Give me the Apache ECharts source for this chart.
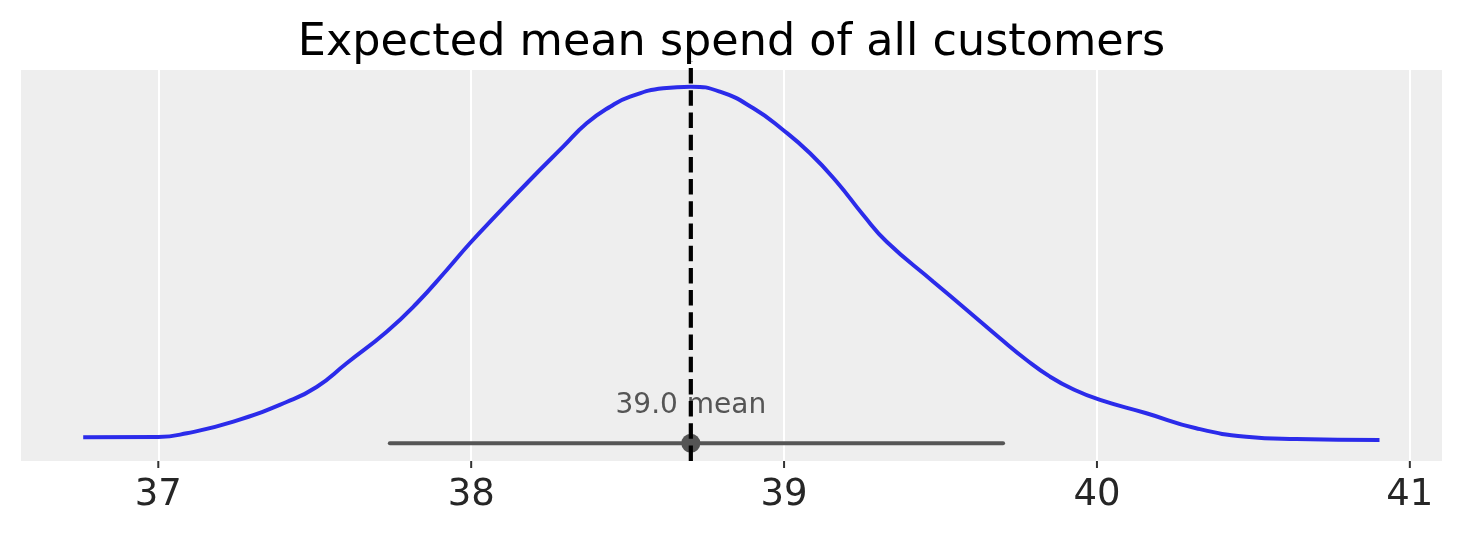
<!DOCTYPE html>
<html>
<head>
<meta charset="utf-8">
<script src="https://cdn.jsdelivr.net/npm/echarts@6/dist/echarts.min.js"></script>
<style>
  html, body { margin: 0; padding: 0; background: #fff; }
  #chart { width: 1463px; height: 537px; }
</style>
</head>
<body>
<div id="chart"></div>
<script>
// KDE of the posterior (x = spend, y = density)
var kdeX = [36.760, 37.000, 37.091, 37.240, 37.410, 37.506, 37.602, 37.730, 37.826, 37.922,
            37.996, 38.081, 38.188, 38.294, 38.369, 38.444, 38.508, 38.614, 38.702, 38.795,
            38.902, 38.997, 39.083, 39.168, 39.253, 39.328, 39.477, 39.584, 39.690,
            39.775, 39.850, 39.924, 40.010, 40.158, 40.317, 40.477, 40.637, 40.903];
var kdeY = [0.0057, 0.0062, 0.0125, 0.0324, 0.0661, 0.0918, 0.1325, 0.1866, 0.2353, 0.2923,
            0.3381, 0.3866, 0.4465, 0.5036, 0.5437, 0.5721, 0.5893, 0.6037, 0.6064, 0.5978,
            0.5694, 0.5322, 0.4923, 0.4436, 0.3866, 0.3408, 0.2723, 0.2238, 0.1753,
            0.1381, 0.1095, 0.0879, 0.0696, 0.0468, 0.0211, 0.0067, 0.0027, 0.0010];
var hdi = [37.74, 39.70];
var pointEstimate = 38.702;
var meanLabel = '39.0 mean';
var xTicks = [37, 38, 39, 40, 41];

var yMin = -0.035, yMax = 0.635;
var hdiY = -0.0046;

var chart = echarts.init(document.getElementById('chart'));

var kdeData = kdeX.map(function (x, i) { return [x, kdeY[i]]; });
var tickData = xTicks.map(function (t) { return [t, yMin]; });

var option = {
    animation: false,
    title: {
        text: 'Expected mean spend of all customers',
        left: 'center',
        top: 16,
        textStyle: { fontFamily: 'DejaVu Sans', fontSize: 44.5, fontWeight: 'normal', color: '#000' }
    },
    grid: { left: 20, right: 20, top: 70, bottom: 76, show: true, backgroundColor: '#eeeeee', borderWidth: 0 },
    xAxis: {
        type: 'value',
        min: 36.558,
        max: 41.106,
        axisLine: { show: false, onZero: false },
        axisTick: { show: false },
        axisLabel: {
            customValues: xTicks,
            margin: 16,
            fontFamily: 'DejaVu Sans',
            fontSize: 37,
            color: '#262626'
        },
        splitLine: { show: true, lineStyle: { color: '#ffffff', width: 2 } }
    },
    yAxis: {
        type: 'value',
        min: yMin,
        max: yMax,
        show: false,
        splitLine: { show: false }
    },
    series: [
        {
            // small tick marks under the plot area
            name: 'ticks',
            type: 'scatter',
            data: tickData,
            symbol: 'rect',
            symbolSize: [2, 7],
            symbolOffset: [0, 3.5],
            clip: false,
            silent: true,
            itemStyle: { color: '#333333', opacity: 1 },
            z: 1
        },
        {
            name: 'kde',
            type: 'line',
            data: kdeData,
            smooth: 0.5,
            showSymbol: false,
            lineStyle: { color: '#2b2bea', width: 4 },
            z: 2
        },
        {
            name: 'hdi',
            type: 'line',
            data: [[hdi[0], hdiY], [hdi[1], hdiY]],
            showSymbol: false,
            lineStyle: { color: '#555555', width: 4, cap: 'round' },
            z: 3
        },
        {
            name: 'point',
            type: 'scatter',
            data: [[pointEstimate, hdiY]],
            symbolSize: 19,
            itemStyle: { color: '#555555', opacity: 1 },
            z: 4
        },
        {
            name: 'label',
            type: 'scatter',
            data: [[pointEstimate, 0.059]],
            symbolSize: 0,
            itemStyle: { opacity: 1 },
            label: {
                show: true,
                position: 'inside',
                formatter: meanLabel,
                fontFamily: 'DejaVu Sans',
                fontSize: 28,
                color: '#555555'
            },
            z: 5
        },
        {
            name: 'mean line',
            type: 'line',
            data: [[pointEstimate, yMin], [pointEstimate, 0.650]],
            clip: false,
            showSymbol: false,
            lineStyle: { color: '#000', width: 4.2, type: [15.5, 6.7] },
            z: 6
        }
    ]
};

chart.setOption(option);
</script>
</body>
</html>
